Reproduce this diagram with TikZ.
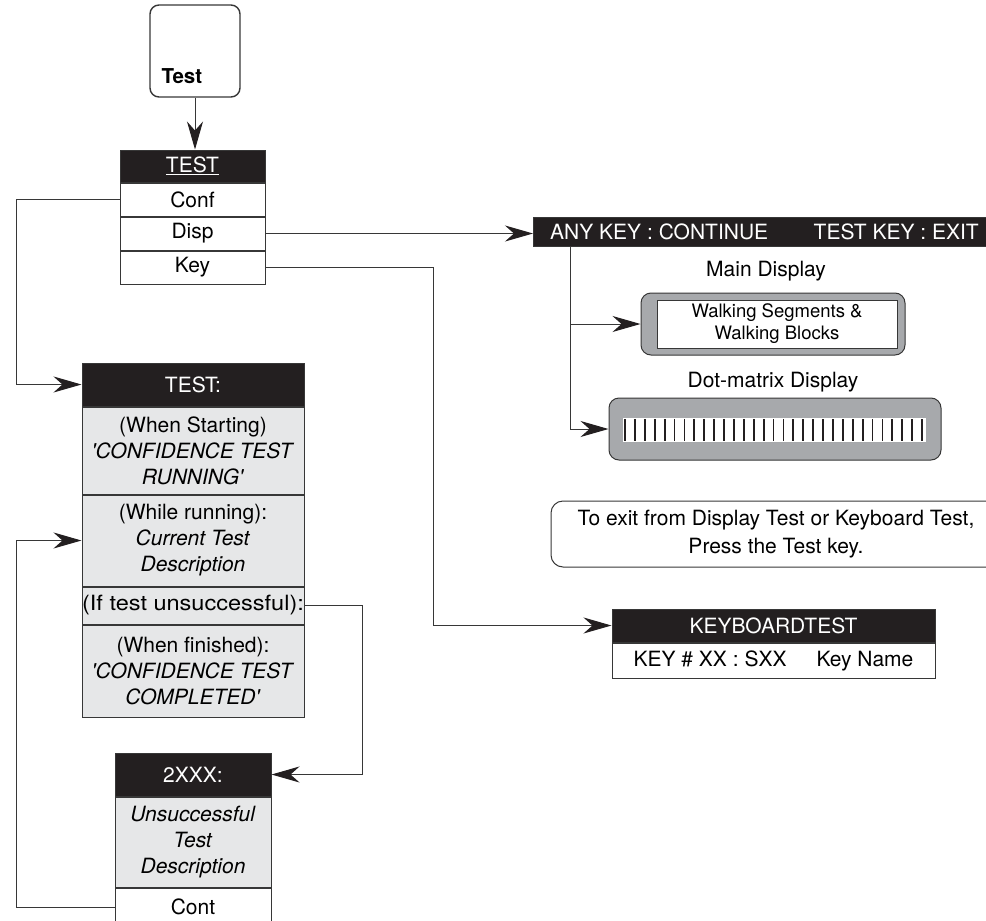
\documentclass[tikz,border=0pt]{standalone}
\usepackage{fontspec}
\setmainfont{TeX Gyre Heros}
\usetikzlibrary{arrows.meta,positioning}
\definecolor{hdrblack}{RGB}{35,31,32}
\definecolor{cellgray}{RGB}{230,231,232}
\definecolor{dispgray}{RGB}{167,169,172}
\definecolor{linegray}{RGB}{55,55,55}

\tikzset{
  box/.style={draw=linegray, line width=1pt, inner sep=0pt, align=center, font=\fontsize{21}{26}\selectfont},
  hdr/.style={box, fill=hdrblack, text=white},
  cell/.style={box, fill=white},
  gcell/.style={box, fill=cellgray},
  lbl/.style={inner sep=0pt, font=\fontsize{21}{26}\selectfont},
  panel/.style={draw=linegray, fill=dispgray, line width=1pt, rounded corners=10pt},
  link/.style={draw=linegray, line width=1pt},
  arr/.style={link, -{Stealth[length=28pt, width=16pt, inset=9pt, fill=hdrblack, color=hdrblack]}},
}

\begin{document}
\begin{tikzpicture}[x=1pt, y=-1pt]
  \useasboundingbox (0,0) rectangle (986,921);

  % test key
  \node[draw=linegray, line width=1.4pt, rounded corners=9pt, minimum width=90pt, minimum height=92pt] (testkey) at (195,51) {};
  \node[anchor=base west, inner sep=0pt, font=\bfseries\fontsize{20.5}{24}\selectfont] (testkeylbl) at ([xshift=12pt,yshift=14pt]testkey.south west) {Test};

  % test menu
  \node[hdr, minimum width=145pt, minimum height=32pt] (menuhdr) at (192.5,166) {\underline{TEST}};
  \node[cell, minimum width=145pt, minimum height=33pt, below=0pt of menuhdr] (conf) {Conf};
  \node[cell, minimum width=145pt, minimum height=33pt, below=0pt of conf] (disp) {Disp};
  \node[cell, minimum width=145pt, minimum height=33pt, below=0pt of disp] (keyrow) {Key};

  % confidence test
  \node[hdr, minimum width=222pt, minimum height=43pt] (conftest) at (193,384.5) {TEST:};
  \node[gcell, minimum width=222pt, minimum height=87pt, below=0pt of conftest] (starting)
    {(When Starting)\\\textit{\textquotesingle CONFIDENCE TEST}\\\textit{RUNNING\textquotesingle}};
  \node[gcell, minimum width=222pt, minimum height=91pt, below=0pt of starting] (running)
    {(While running):\\\textit{Current Test}\\\textit{Description}};
  \node[gcell, minimum width=222pt, minimum height=37pt, below=0pt of running] (unsucc) {\scalebox{1.12}[1]{(If test unsuccessful):}};
  \node[gcell, minimum width=222pt, minimum height=92pt, below=0pt of unsucc] (finished)
    {(When finished):\\\textit{\textquotesingle CONFIDENCE TEST}\\\textit{COMPLETED\textquotesingle}};

  % error screen
  \node[hdr, minimum width=156pt, minimum height=43pt] (errhdr) at (193,774.5) {2XXX:};
  \node[gcell, minimum width=156pt, minimum height=90pt, below=0pt of errhdr] (errdesc)
    {\textit{Unsuccessful}\\\textit{Test}\\\textit{Description}};
  \node[cell, minimum width=156pt, minimum height=38pt, below=0pt of errdesc] (cont) {Cont};

  % display test
  \node[hdr, minimum width=470pt, minimum height=29pt, anchor=west] (anykey) at (533,231.5) {};
  \node[lbl, text=white, anchor=west] (anylbl) at (550,231.5) {ANY KEY : CONTINUE};
  \node[lbl, text=white, anchor=east] (exitlbl) at (979,231.5) {TEST KEY : EXIT};

  \node[lbl] (mainlbl) at (766,271) {Main Display};
  \node[panel, minimum width=264pt, minimum height=62pt] (maindisp) at (773,324) {};
  \node[cell, font=\fontsize{18.5}{22}\selectfont, minimum width=240pt, minimum height=48pt] (segtext) at (777,324)
    {Walking Segments \&\\Walking Blocks};

  \node[lbl] (dotlbl) at (773,382) {Dot-matrix Display};
  \node[panel, minimum width=332pt, minimum height=62pt] (dotdisp) at (775,429) {};
  \node[fill=white, inner sep=0pt, minimum width=303pt, minimum height=24pt] (strip) at (774.5,430) {};
  \foreach \i in {0,...,30}
    \draw[hdrblack, line width=1.8pt] (625+9.9*\i,419) -- (625+9.9*\i,441);

  \node[draw=linegray, line width=1pt, rounded corners=12pt, minimum width=450pt, minimum height=66pt,
        align=center, font=\fontsize{21}{28}\selectfont] (note) at (776,534)
    {To exit from Display Test or Keyboard Test,\\Press the Test key.};

  % keyboard test
  \node[hdr, minimum width=323pt, minimum height=33pt] (kbhdr) at (773.5,625.5) {KEYBOARDTEST};
  \node[cell, minimum width=323pt, minimum height=35pt, below=0pt of kbhdr] (kbrow) {KEY \# XX : SXX\hspace{30pt}Key Name};

  % connectors
  \draw[arr] (testkey.south) -- (testkey.south |- menuhdr.north);
  \draw[arr] (conf.west) -- ++(-103,0) |- (conftest.west);
  \draw[arr] (disp.east) -- (disp.east -| anykey.west);
  \draw[arr] (keyrow.east) -- ++(168,0) |- (kbhdr.west);
  \coordinate (tap) at ([xshift=37pt]anykey.south west);
  \draw[arr] (tap) |- (maindisp.west);
  \draw[arr] (tap) |- (dotdisp.west);
  \draw[arr] (unsucc.east) -- ++(58,0) |- (errhdr.east);
  \draw[arr] (cont.west) -- ++(-98,0) |- (running.west);
\end{tikzpicture}
\end{document}
